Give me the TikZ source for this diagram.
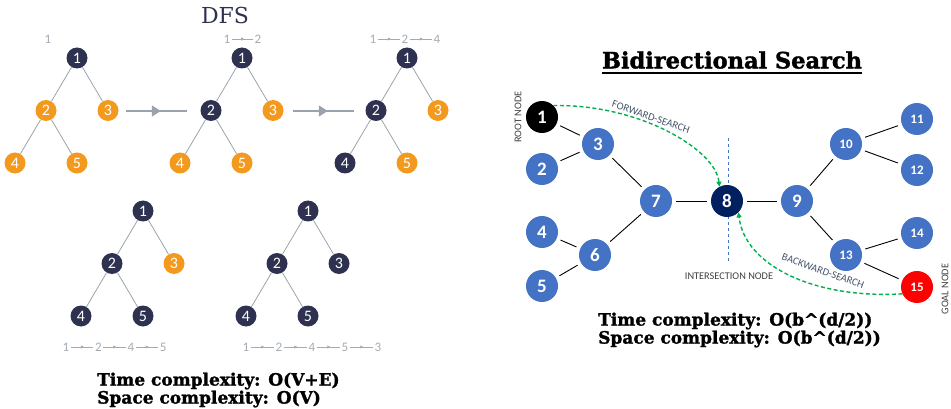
\documentclass[tikz,border=0pt]{standalone}
\usepackage{fontspec}
\setmainfont{Carlito}
\newfontfamily\slabfont{DejaVu Serif}[BoldFeatures={FakeBold=1.6}]
\usetikzlibrary{arrows.meta,decorations.markings}
\definecolor{navy}{HTML}{2E3250}
\definecolor{orng}{HTML}{F39A1E}
\definecolor{edgegray}{HTML}{9AA3AD}
\definecolor{seqgray}{HTML}{A3ABB3}
\definecolor{bblue}{HTML}{4472C4}
\definecolor{deepnavy}{HTML}{002060}
\definecolor{goalred}{HTML}{FF0000}
\definecolor{searchgreen}{HTML}{00B050}
\definecolor{slate}{HTML}{44546A}
\definecolor{tagtext}{HTML}{404040}
\begin{document}
\begin{tikzpicture}[x=1pt,y=-1pt,every node/.style={inner sep=0pt},
	dnode/.style={circle,fill=navy,text=white,minimum size=21pt,font=\fontsize{16}{16}\selectfont},
	onode/.style={dnode,fill=orng},
	level/.style={level distance=52.5pt,sibling distance=62pt},
	edge from parent/.style={draw=edgegray,line width=0.8pt},
	midarrow/.style={postaction={decorate},decoration={markings,
		mark=at position 0.57 with {\arrow{#1}}}},
	seq/.style={text=seqgray,font=\fontsize{13}{13}\selectfont},
	seqarrow/.style={color=seqgray,line width=0.6pt,shorten <=1.5pt,shorten >=1.5pt,
		midarrow={Triangle[length=3pt,width=3pt]}},
	bigarrow/.style={color=edgegray,line width=1.5pt,midarrow={Triangle[length=9pt,width=11pt]}},
	bnode/.style={circle,fill=bblue,text=white,minimum size=32pt,font=\bfseries\fontsize{19}{19}\selectfont},
	bsmall/.style={bnode,font=\bfseries\fontsize{13}{13}\selectfont},
	bedge/.style={line width=0.9pt,shorten <=4pt,shorten >=4pt},
	search/.style={color=searchgreen,line width=1.4pt,dash pattern=on 4pt off 2.5pt,
		-{Triangle[length=5pt,width=5pt]}},
	searchlbl/.style={text=slate,font=\fontsize{10.5}{10.5}\selectfont},
	tag/.style={text=tagtext,font=\fontsize{10.3}{10.3}\selectfont},
	cplx/.style={anchor=west,font=\slabfont\bfseries\fontsize{17}{17}\selectfont}]
\useasboundingbox (0,0) rectangle (951,409);

% DFS
\node[text=navy,font=\slabfont\fontsize{22}{22}\selectfont] (dfs) at (225,15) {DFS};

\node[dnode] (t1) at (77,58) {1}
child {node[onode] {2}
	child {node[onode] {4}}
	child {node[onode] {5}}
	}
child {node[onode] {3}};

\node[dnode] (t2) at (242,58) {1}
child {node[dnode] {2}
	child {node[onode] {4}}
	child {node[onode] {5}}
	}
child {node[onode] {3}};

\node[dnode] (t3) at (407,58) {1}
child {node[dnode] {2}
	child {node[dnode] {4}}
	child {node[onode] {5}}
	}
child {node[onode] {3}};

\node[dnode] (t4) at (143,211) {1}
child {node[dnode] {2}
	child {node[dnode] {4}}
	child {node[dnode] {5}}
	}
child {node[onode] {3}};

\node[dnode] (t5) at (308,211) {1}
child {node[dnode] {2}
	child {node[dnode] {4}}
	child {node[dnode] {5}}
	}
child {node[dnode] {3}};

\draw[bigarrow] (126,111) coordinate (go1) -- (187,111) coordinate (go1e);
\draw[bigarrow] (293,111) coordinate (go2) -- (354,111) coordinate (go2e);

% visiting order
\node[seq] (sa1) at (48,39) {1};
\foreach \d [count=\i] in {1,2}
	\node[seq] (sb\i) at ({227+31*(\i-1)},39) {\d};
\draw[seqarrow] (sb1) -- (sb2);
\foreach \d [count=\i] in {1,2,4}
	\node[seq] (sc\i) at ({373+32*(\i-1)},39) {\d};
\foreach \i [count=\j from 2] in {1,2}
	\draw[seqarrow] (sc\i) -- (sc\j);
\foreach \d [count=\i] in {1,2,4,5}
	\node[seq] (sd\i) at ({66+32.4*(\i-1)},347) {\d};
\foreach \i [count=\j from 2] in {1,2,3}
	\draw[seqarrow] (sd\i) -- (sd\j);
\foreach \d [count=\i] in {1,2,4,5,3}
	\node[seq] (se\i) at ({246+33*(\i-1)},347) {\d};
\foreach \i [count=\j from 2] in {1,...,4}
	\draw[seqarrow] (se\i) -- (se\j);

\node[cplx] (dtime) at (97,381) {Time complexity: O(V+E)};
\node[cplx] (dspace) at (97,399) {Space complexity: O(V)};

% Bidirectional search
\node[font=\slabfont\bfseries\fontsize{22.5}{22.5}\selectfont] (btitle) at (732,60) {Bidirectional Search};
\draw[line width=1.8pt] ([yshift=-4pt]btitle.south west) -- ([yshift=-4pt]btitle.south east);

\draw[color=bblue,line width=0.8pt,dashed] (728,138) coordinate (cuttop) -- (728,263) coordinate (cutbot);

\node[bnode,fill=black] (b1) at (542,117) {1};
\foreach \n/\x/\y in {2/542/169,3/598/144,4/542/232,5/542/286,6/595/255,7/656/201,9/797/201}
	\node[bnode] (b\n) at (\x,\y) {\n};
\node[bnode,fill=deepnavy] (b8) at (727,201) {8};
\foreach \n/\x/\y in {10/846/144,11/917/119,12/917/170,13/846/255,14/917/233}
	\node[bsmall] (b\n) at (\x,\y) {\n};
\node[bsmall,fill=goalred] (b15) at (917,287) {15};

\foreach \a/\b in {1/3,2/3,3/7,4/6,5/6,6/7,7/8,8/9,9/10,9/13,10/11,10/12,13/14,13/15}
	\draw[bedge] (b\a) -- (b\b);

\draw[search] (b1.45) .. controls (640,104) and (716,150) .. (b8.118);
\draw[search] (b15.205) .. controls (815,299) and (745,266) .. (b8.-45);
\node[searchlbl,rotate=-19] (fwd) at (651,117) {FORWARD-SEARCH};
\node[searchlbl,rotate=-20] (bwd) at (823,271) {BACKWARD-SEARCH};

\node[tag,rotate=90] (root) at (518,117) {ROOT NODE};
\node[tag,rotate=90] (goal) at (945,289) {GOAL NODE};
\node[tag] (meet) at (729,276) {INTERSECTION NODE};

\node[cplx] (btime) at (598,321) {Time complexity: O(b\^{}(d/2))};
\node[cplx] (bspace) at (598,339) {Space complexity: O(b\^{}(d/2))};
\end{tikzpicture}
\end{document}
